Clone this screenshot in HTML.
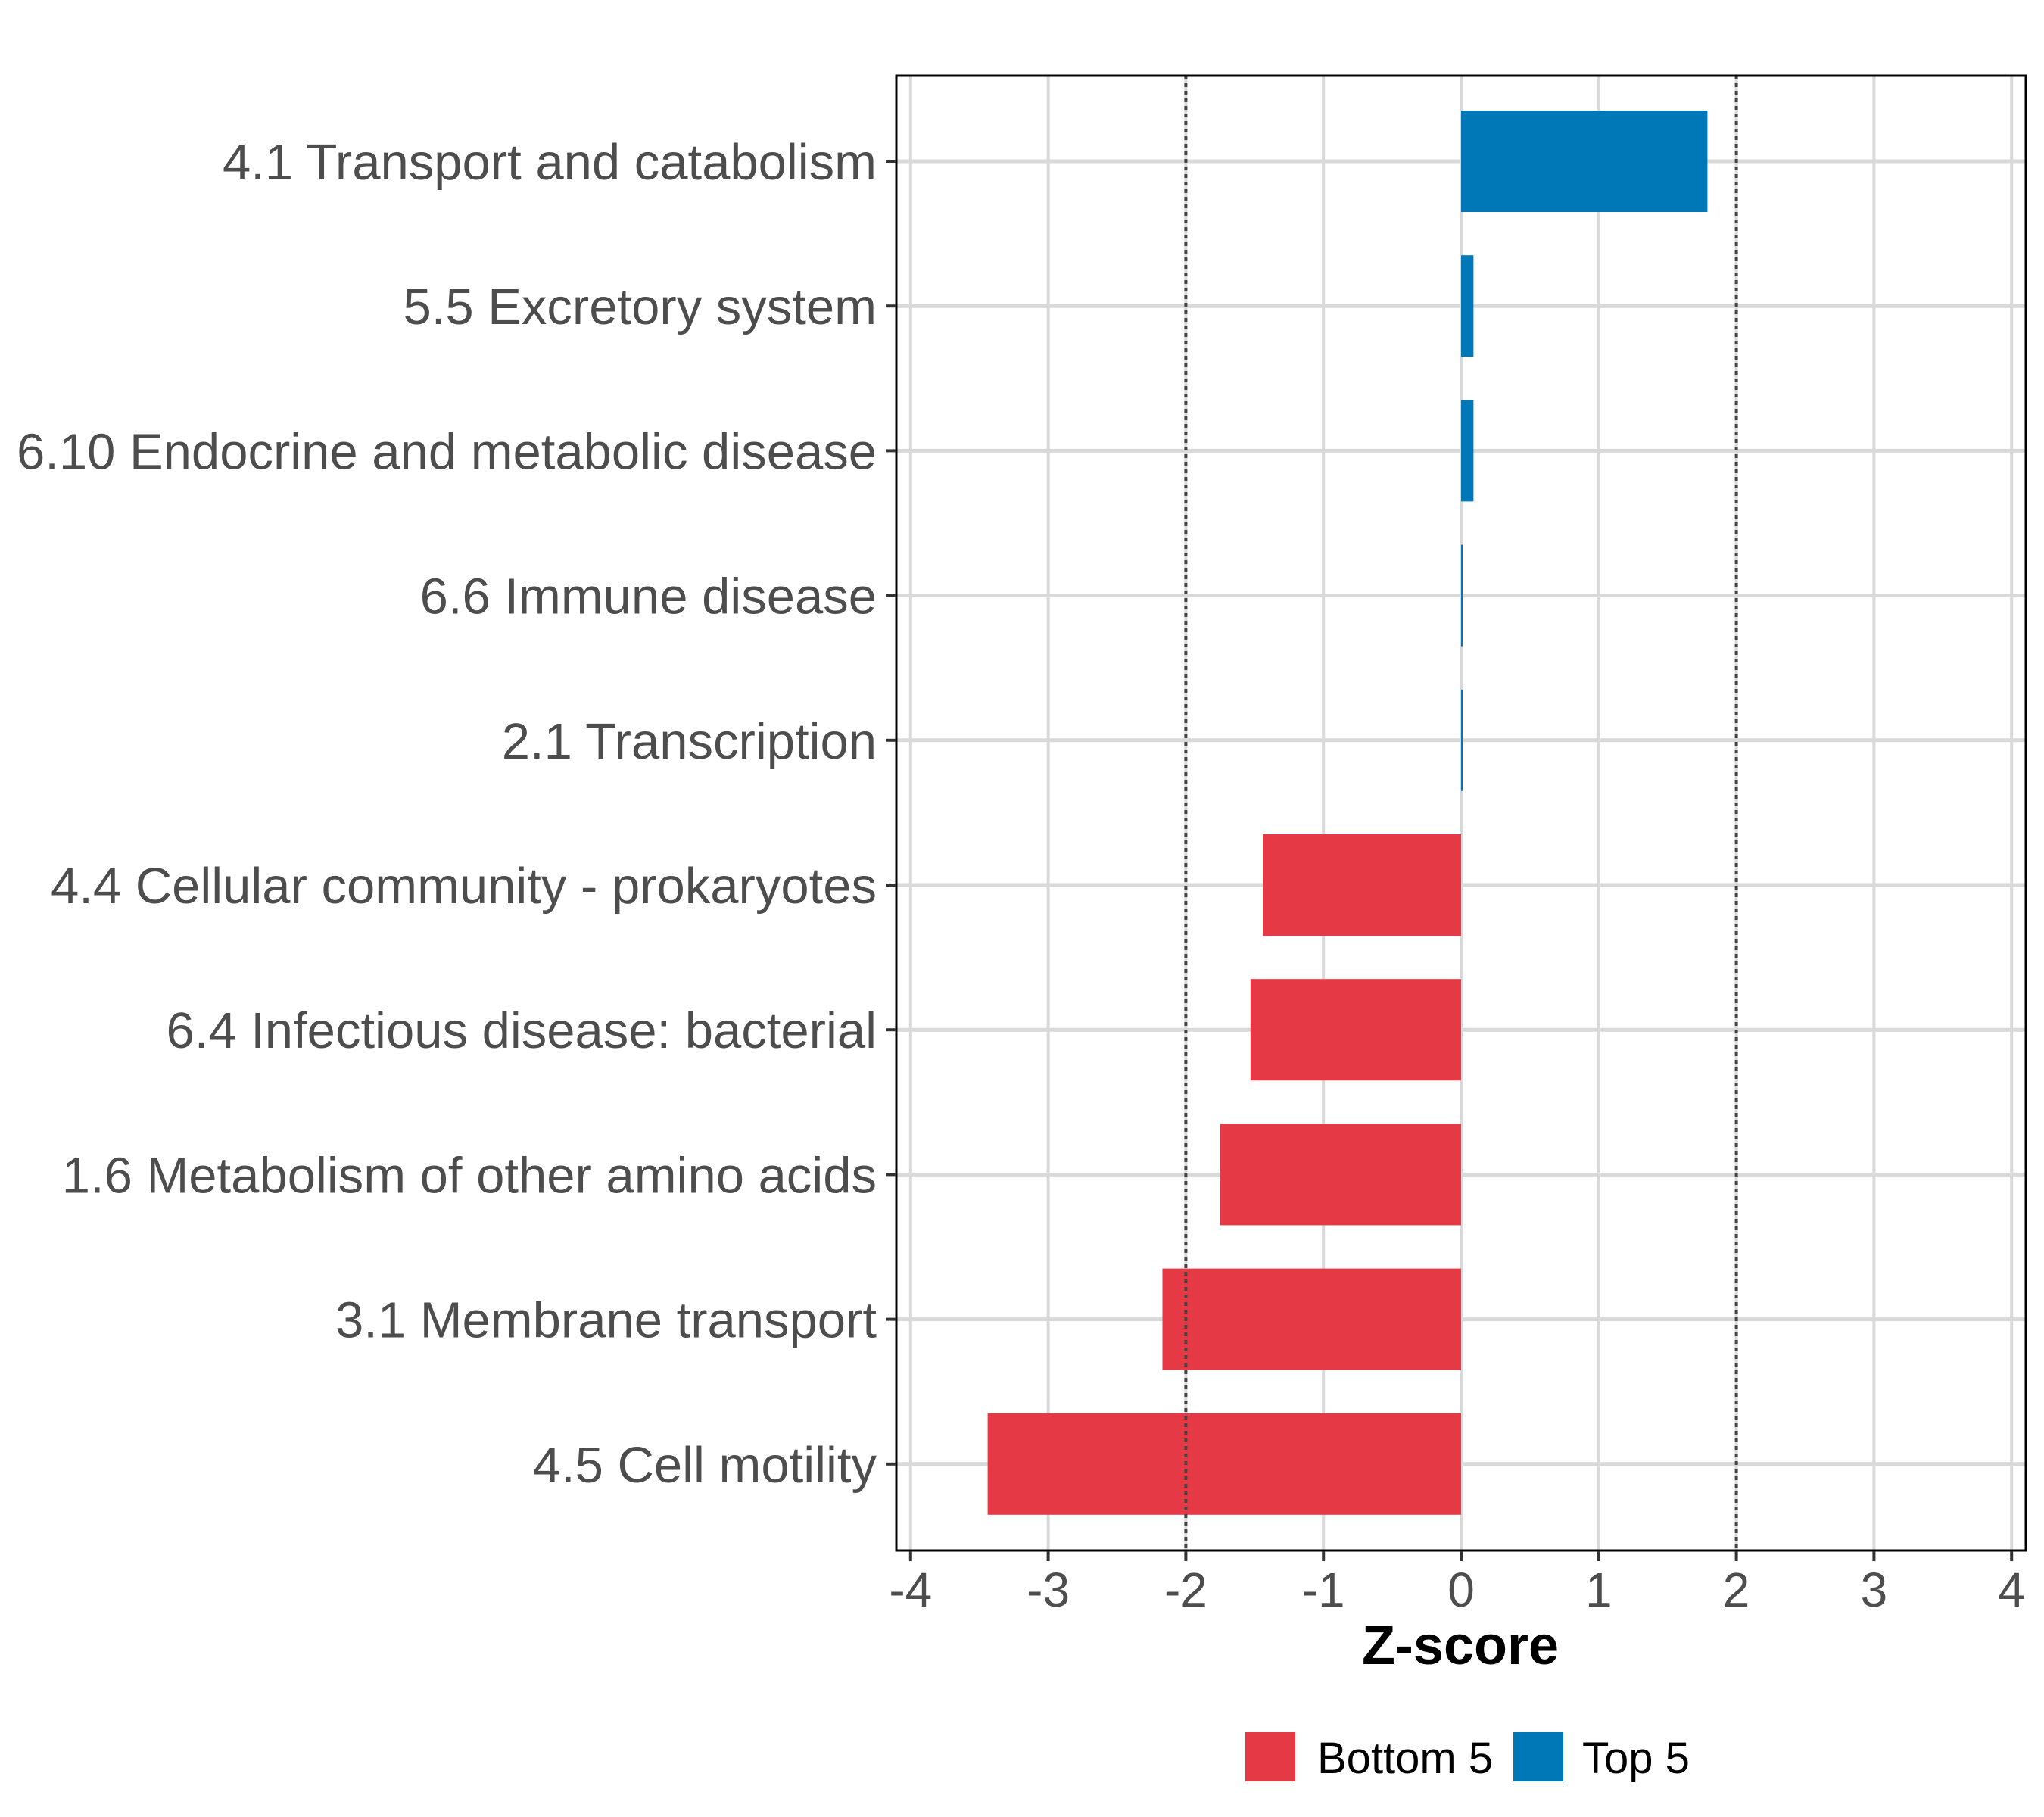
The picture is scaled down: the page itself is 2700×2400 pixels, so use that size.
<!DOCTYPE html>
<html><head><meta charset="utf-8"><style>
body{margin:0;background:#fff;}
svg{display:block;font-family:"Liberation Sans",sans-serif;}
</style></head><body>
<svg id="chart" width="2700" height="2400" viewBox="0 0 2700 2400" xmlns="http://www.w3.org/2000/svg">
<rect width="2700" height="2400" fill="#fff"/>
<g id="grid"></g>
<g id="bars"></g>
<g id="refs"></g>
<rect x="1184" y="100" width="1492" height="1948" fill="none" stroke="#000" stroke-width="3"/>
<g id="yaxis"></g>
<g id="xaxis"></g>
<text x="1929" y="2198" font-size="72" font-weight="bold" text-anchor="middle" fill="#000">Z-score</text>
<g>
<rect x="1645" y="2288" width="66" height="65" fill="#E63946"/>
<text x="1740" y="2342" font-size="58" fill="#000">Bottom 5</text>
<rect x="1999" y="2288" width="66" height="65" fill="#0077B6"/>
<text x="2090" y="2342" font-size="58" fill="#000">Top 5</text>
</g>
</svg>
<script>
const categories = ["4.1 Transport and catabolism","5.5 Excretory system","6.10 Endocrine and metabolic disease","6.6 Immune disease","2.1 Transcription","4.4 Cellular community - prokaryotes","6.4 Infectious disease: bacterial","1.6 Metabolism of other amino acids","3.1 Membrane transport","4.5 Cell motility"];
const zscores = [1.79, 0.09, 0.09, 0.01, 0.01, -1.44, -1.53, -1.75, -2.17, -3.44];
const groups = ["Top 5","Top 5","Top 5","Top 5","Top 5","Bottom 5","Bottom 5","Bottom 5","Bottom 5","Bottom 5"];
const xTicks = [-4,-3,-2,-1,0,1,2,3,4];
const refLines = [-2, 2];

const NS="http://www.w3.org/2000/svg";
const xScale = v => 1930 + v*181.8;
const yScale = i => 213 + i*191.2;
const barH = 134;
const colors = {"Top 5":"#0077B6","Bottom 5":"#E63946"};
function mk(tag, attrs, parent){const e=document.createElementNS(NS,tag);for(const k in attrs)e.setAttribute(k,attrs[k]);parent.appendChild(e);return e;}
const grid=document.getElementById('grid'), bars=document.getElementById('bars'), refs=document.getElementById('refs'), yax=document.getElementById('yaxis'), xax=document.getElementById('xaxis');
xTicks.forEach(t=>{
  const l=mk('line',{x1:xScale(t),x2:xScale(t),y1:100,y2:2048,stroke:'#d9d9d9','stroke-width':4},grid);
  
  
  const tk=mk('line',{x1:xScale(t),x2:xScale(t),y1:2048,y2:2062,stroke:'#333','stroke-width':4},xax);
  
  
  const tx=mk('text',{x:xScale(t),y:2122,'font-size':64,'text-anchor':'middle',fill:'#4d4d4d'},xax);
  tx.textContent=String(t);
  
  
});
categories.forEach((c,i)=>{
  const y=yScale(i);
  const g=mk('line',{x1:1184,x2:2676,y1:y,y2:y,stroke:'#d9d9d9','stroke-width':5},grid);
  
  
  const v=zscores[i];
  const x0=xScale(Math.min(0,v)), w=Math.max(Math.abs(xScale(v)-xScale(0)),2);
  const b=mk('rect',{x:x0,y:y-barH/2,width:w,height:barH,fill:colors[groups[i]]},bars);
  
  
  const tk=mk('line',{x1:1171,x2:1184,y1:y,y2:y,stroke:'#333','stroke-width':4},yax);
  
  
  const tx=mk('text',{x:1158,y:y+24,'font-size':67,'text-anchor':'end',fill:'#4d4d4d'},yax);
  tx.textContent=c;
  
  
});
refLines.forEach(r=>{
  const l=mk('line',{x1:xScale(r),x2:xScale(r),y1:100,y2:2048,stroke:'#444','stroke-width':4,'stroke-dasharray':'5 5'},refs);
  
  
});
</script>
</body></html>
